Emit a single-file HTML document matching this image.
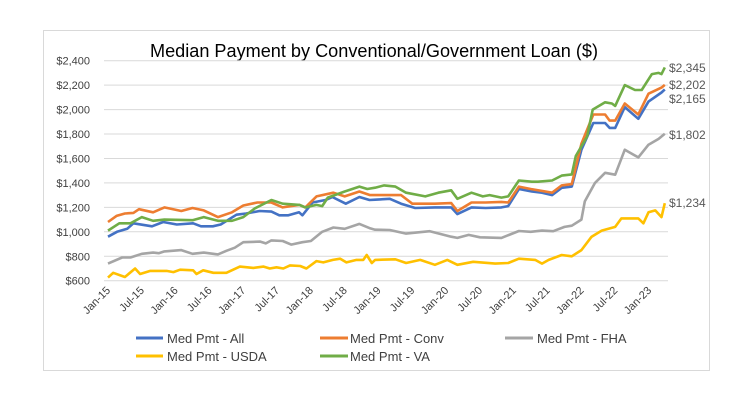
<!DOCTYPE html>
<html><head><meta charset="utf-8"><style>
html,body{margin:0;padding:0;background:#fff;}
svg{display:block;font-family:"Liberation Sans",sans-serif;}
</style></head><body>
<svg id="c" width="750" height="401" viewBox="0 0 750 401">
<rect x="43.5" y="30.5" width="666" height="340" fill="#fff" stroke="#d9d9d9"/>
<text x="374" y="57" font-size="18" text-anchor="middle" fill="#000" textLength="448" lengthAdjust="spacingAndGlyphs">Median Payment by Conventional/Government Loan ($)</text>
<g id="grid"></g>
<g id="ylab" font-size="11" fill="#404040" text-anchor="end"></g>
<g id="xlab" font-size="11" fill="#404040" text-anchor="end"></g>
<g id="lines" fill="none" stroke-width="2.6" stroke-linejoin="round"></g>
<g font-size="12" fill="#595959">
<text x="669" y="72">$2,345</text>
<text x="669" y="89">$2,202</text>
<text x="669" y="103">$2,165</text>
<text x="669" y="139">$1,802</text>
<text x="669" y="207">$1,234</text>
</g>
<g font-size="13" fill="#404040">
<line x1="136" y1="338" x2="163" y2="338" stroke="#4472c4" stroke-width="3"/><text x="167" y="343">Med Pmt - All</text>
<line x1="320" y1="338" x2="348" y2="338" stroke="#ed7d31" stroke-width="3"/><text x="350" y="343">Med Pmt - Conv</text>
<line x1="505" y1="338" x2="533" y2="338" stroke="#a5a5a5" stroke-width="3"/><text x="537" y="343">Med Pmt - FHA</text>
<line x1="136" y1="356" x2="163" y2="356" stroke="#ffc000" stroke-width="3"/><text x="167" y="361">Med Pmt - USDA</text>
<line x1="320" y1="356" x2="348" y2="356" stroke="#70ad47" stroke-width="3"/><text x="350" y="361">Med Pmt - VA</text>
</g>
</svg>
<script>
var NS="http://www.w3.org/2000/svg";
function X(m){return 108+m*5.636;}
function Y(v){return 280.7-(v-600)*0.12222;}
var g=document.getElementById("grid"),yl=document.getElementById("ylab"),xl=document.getElementById("xlab"),L=document.getElementById("lines");
for(var v=600;v<=2400;v+=200){
 var l=document.createElementNS(NS,"line");l.setAttribute("x1",104);l.setAttribute("x2",668);l.setAttribute("y1",Y(v));l.setAttribute("y2",Y(v));l.setAttribute("stroke","#d9d9d9");l.setAttribute("stroke-width","1");g.appendChild(l);
 var t=document.createElementNS(NS,"text");t.setAttribute("x",90);t.setAttribute("y",Y(v)+4);t.textContent="$"+(v>=1000?Math.floor(v/1000)+","+String(v%1000).padStart(3,"0"):v);yl.appendChild(t);
}
var yrs=["15","16","17","18","19","20","21","22","23"];
for(var i=0;i<17;i++){
 var m=i*6;var lab=(i%2==0?"Jan-":"Jul-")+yrs[Math.floor(i/2)];
 var t=document.createElementNS(NS,"text");var x=X(m)+3,y=291;
 t.setAttribute("x",x);t.setAttribute("y",y);t.setAttribute("transform","rotate(-45 "+x+" "+y+")");t.textContent=lab;xl.appendChild(t);
}
var S={
all:["#4472c4",[[0,960],[1.6,1000],[3.4,1025],[4.5,1070],[7.8,1045],[9.8,1080],[12.2,1060],[15.1,1070],[16.5,1045],[18.6,1045],[20,1060],[22.8,1140],[24.5,1150],[26.9,1170],[29,1165],[30.4,1135],[32,1135],[33.9,1160],[34.5,1135],[36.3,1240],[38.6,1260],[39.8,1285],[42.2,1230],[44.6,1285],[46.4,1260],[47.4,1263],[50,1270],[52,1230],[54.5,1195],[58,1200],[60.9,1200],[62,1145],[64.5,1200],[67,1195],[69.8,1200],[71,1210],[72.9,1350],[75.2,1330],[77,1320],[78.8,1300],[80.5,1360],[82.3,1370],[84,1670],[86.1,1890],[88.2,1890],[89,1850],[90,1850],[91.7,2020],[94.1,1925],[95.9,2065],[98.2,2140],[98.8,2165]]],
conv:["#ed7d31",[[0,1080],[1.5,1130],[3,1150],[4.5,1155],[5.5,1185],[8,1160],[10,1200],[13,1170],[15,1195],[17,1175],[19.5,1120],[22,1160],[24,1215],[26.5,1240],[29,1240],[31,1200],[34,1220],[35,1200],[37,1290],[40,1320],[42,1290],[44.6,1330],[46.5,1300],[50,1300],[52,1300],[54,1230],[58,1230],[60.9,1235],[62,1170],[64.5,1240],[67,1240],[69.8,1245],[71,1240],[72.9,1370],[75,1350],[78.8,1320],[80.5,1380],[82.3,1390],[84,1720],[86.1,1960],[88.2,1960],[89,1910],[90,1910],[91.7,2050],[94.1,1960],[95.9,2130],[98.2,2180],[98.8,2202]]],
fha:["#a5a5a5",[[0,740],[2.5,790],[4,790],[6,820],[8,830],[9,825],[10,840],[13,850],[15,820],[17,830],[19.5,815],[21,845],[22.5,870],[24,915],[27,920],[28,905],[29,930],[31,925],[32.5,895],[34.5,915],[36,925],[38,1000],[40,1035],[42,1025],[44.6,1065],[46.4,1030],[47.4,1017],[50,1015],[52.9,985],[57.1,1005],[60.9,960],[62,950],[64,975],[66,955],[69.8,950],[72.9,1007],[75,1000],[77,1010],[79,1005],[81,1040],[82.3,1050],[84,1100],[84.6,1249],[86.4,1400],[88.2,1483],[90,1467],[91.7,1672],[94.1,1609],[95.9,1713],[97.7,1760],[98.8,1802]]],
usda:["#ffc000",[[0,625],[0.93,665],[3,630],[4.8,700],[5.7,655],[7.5,680],[10.4,680],[11.6,670],[12.8,690],[15.1,685],[15.7,655],[16.9,685],[18.7,665],[21,665],[23.4,715],[25.8,705],[27.6,715],[28.7,700],[29.9,710],[31.1,700],[32.3,725],[34.1,720],[35.2,700],[37,760],[38.2,750],[39.9,770],[41.2,780],[42.3,750],[44.1,770],[45.3,770],[45.9,810],[46.8,745],[47.4,770],[51,775],[52.9,745],[55.4,770],[58,730],[60.2,770],[62,730],[64.8,755],[68.7,740],[71,745],[72.9,780],[75.8,770],[77,740],[78.2,770],[80.5,810],[82.3,800],[84,850],[85.8,960],[87.6,1010],[90,1040],[91.1,1110],[94.1,1110],[95,1070],[95.9,1160],[97.1,1175],[98.2,1120],[98.8,1234]]],
va:["#70ad47",[[0,1010],[2,1070],[4,1070],[6,1120],[8,1090],[10,1100],[15,1095],[17,1120],[19.5,1090],[22,1090],[24,1120],[26,1190],[29,1260],[31,1230],[34,1220],[35,1200],[37,1220],[38,1210],[39,1280],[42,1330],[44.6,1370],[46,1350],[47.4,1361],[49,1380],[51,1370],[52.9,1320],[56.3,1290],[58.6,1320],[60.9,1340],[62,1270],[64.5,1320],[66.5,1290],[67.7,1300],[69.8,1280],[71,1290],[72.9,1420],[75.2,1410],[76.3,1410],[78.8,1420],[80.5,1460],[82.3,1470],[83,1620],[85,1780],[86,2000],[88.2,2060],[89.4,2050],[90,2030],[91.7,2200],[93.5,2160],[94.7,2160],[96.5,2290],[97.7,2300],[98.2,2290],[98.8,2345]]]
};
["all","conv","fha","usda","va"].forEach(function(k){
 var s=S[k],p=document.createElementNS(NS,"polyline");
 p.setAttribute("points",s[1].map(function(q){return X(q[0]).toFixed(1)+","+Y(q[1]).toFixed(1);}).join(" "));
 p.setAttribute("stroke",s[0]);L.appendChild(p);
});
</script>
</body></html>
